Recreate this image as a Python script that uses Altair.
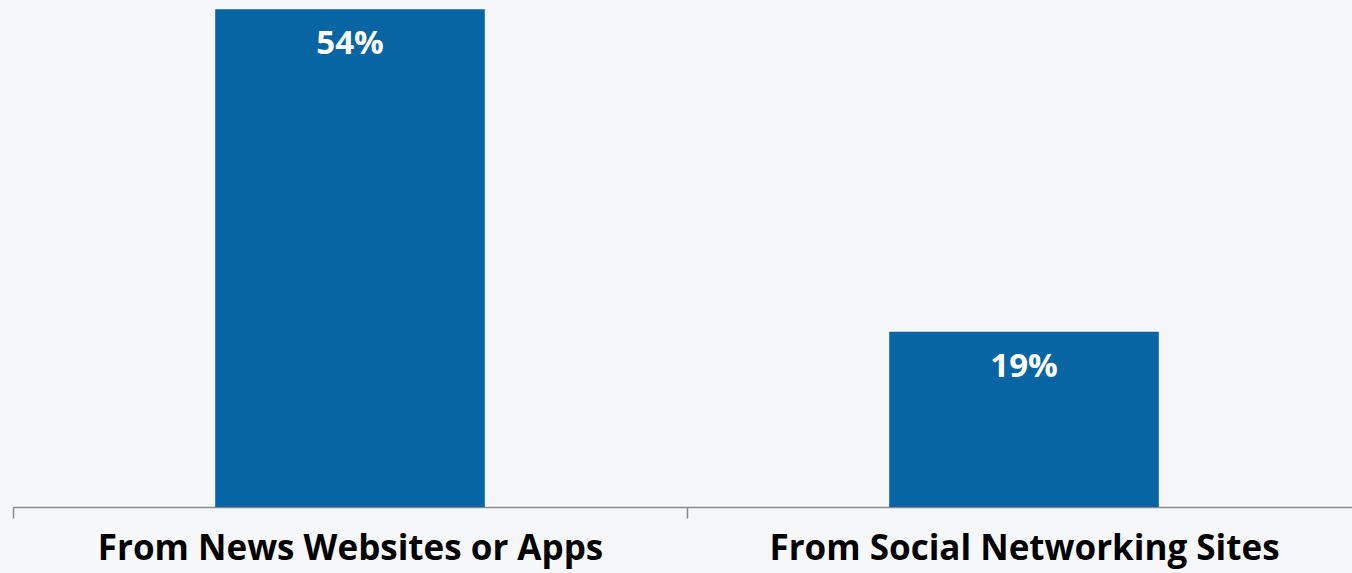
import altair as alt
import pandas as pd

categories = ["From News Websites or Apps", "From Social Networking Sites"]
values = [54, 19]
value_labels = ["54%", "19%"]

df = pd.DataFrame({"category": categories, "value": values, "label": value_labels})

x_enc = alt.X(
    "category:N",
    sort=None,
    title=None,
    scale=alt.Scale(range=[0, 1348], paddingInner=0, paddingOuter=0),
    axis=alt.Axis(
        labelAngle=0,
        labelFont="Open Sans",
        labelFontWeight="bold",
        labelFontSize=35,
        labelColor="#000000",
        labelPadding=13,
        labelLimit=2000,
        tickSize=11,
        tickColor="#8a8a8a",
        tickWidth=1.5,
        domainColor="#8a8a8a",
        domainWidth=1.5,
        grid=False,
        tickBand="extent",
        labelBound=False,
        labelOverlap=False,
    ),
)
y_enc = alt.Y("value:Q", scale=alt.Scale(domain=[0, 55], nice=False), axis=None)

bars = alt.Chart(df).mark_bar(color="#0865A4", width=alt.RelativeBandSize(0.4)).encode(x=x_enc, y=y_enc)
text = alt.Chart(df).mark_text(
    color="white", font="Open Sans", fontWeight="bold", fontSize=33, baseline="middle", dy=35
).encode(x=alt.X("category:N", sort=None), y="value:Q", text="label:N")

chart = (
    alt.layer(bars, text)
    .properties(
        width=1339,
        height=507,
        background="#f6f7f8",
        padding={"left": 13, "right": 0, "top": 0, "bottom": 66},
        autosize=alt.AutoSizeParams(type="none"),
    )
    .configure_view(stroke=None)
)

chart.save("out.html", embed_options={"renderer": "svg", "actions": False})
